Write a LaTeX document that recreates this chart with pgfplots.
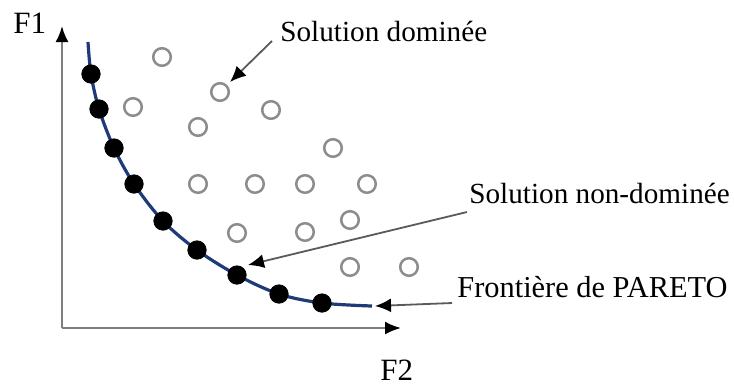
\documentclass[border=0pt]{standalone}
\usepackage{pgfplots}
\pgfplotsset{compat=1.18}
\usepackage{fontspec}
\setmainfont{Liberation Serif}
\usetikzlibrary{arrows.meta}
\definecolor{navy}{HTML}{1F3A78}
\definecolor{circgray}{HTML}{8C8C8C}
\definecolor{axgray}{HTML}{7F7F7F}
\definecolor{argray}{HTML}{5A5A5A}
\begin{document}
\begin{tikzpicture}
\begin{axis}[
  width=367pt, height=192.5pt, scale only axis,
  xmin=0, xmax=734, ymin=0, ymax=385, y dir=reverse,
  hide axis, clip=false,
]
\path (axis cs:0,0) rectangle (axis cs:734,385);
% axes
\draw[axgray, line width=1.1pt, -{Latex[length=8pt,width=6.5pt,black]}] (axis cs:62,328) -- (axis cs:62,26);
\draw[axgray, line width=1.1pt, -{Latex[length=8pt,width=6.5pt,black]}] (axis cs:62,328) -- (axis cs:401,328);
% dominated solutions
\addplot[only marks, mark=o, mark size=4.4pt, mark options={draw=circgray, line width=1.25pt}] coordinates {
(162,57) (220,92) (133,107) (271,110) (198,127) (333,148)
(198,184) (255,184) (305,184) (367,184)
(350,220) (237,233) (305,232) (350,267) (409,267)};
% Pareto front curve
\addplot[navy, line width=1.6pt, smooth, tension=0.55] coordinates {
(88,42) (91,74) (99,109) (114,148) (134,184) (163,221) (197,250) (237,275) (279,294) (322,303) (372,306)};
% non-dominated solutions
\addplot[only marks, mark=*, mark size=4.6pt, mark options={fill=black, draw=black}] coordinates {
(91,74) (99,109) (114,148) (134,184) (163,221) (197,250) (237,275) (279,294) (322,303)};
% annotation arrows
\draw[argray, line width=0.9pt, -{Latex[length=8pt,width=7pt,black]}] (axis cs:272,41) -- (axis cs:230,82);
\draw[argray, line width=0.9pt, -{Latex[length=8pt,width=7pt,black]}] (axis cs:467,212) -- (axis cs:248,265);
\draw[argray, line width=0.9pt, -{Latex[length=8pt,width=7pt,black]}] (axis cs:452,303) -- (axis cs:375,306);
% labels
\node[anchor=base west, inner sep=0pt, font=\fontsize{14.6pt}{16pt}\selectfont] at (axis cs:280,41) {Solution dominée};
\node[anchor=base west, inner sep=0pt, font=\fontsize{14.6pt}{16pt}\selectfont] at (axis cs:469,203) {Solution non-dominée};
\node[anchor=base west, inner sep=0pt, font=\fontsize{15.2pt}{16pt}\selectfont] at (axis cs:457,297) {Frontière de PARETO};
\node[anchor=base west, inner sep=0pt, font=\fontsize{15.5pt}{16pt}\selectfont] at (axis cs:13,33) {F1};
\node[anchor=base west, inner sep=0pt, font=\fontsize{15.5pt}{16pt}\selectfont] at (axis cs:380,380) {F2};
\end{axis}
\end{tikzpicture}
\end{document}
